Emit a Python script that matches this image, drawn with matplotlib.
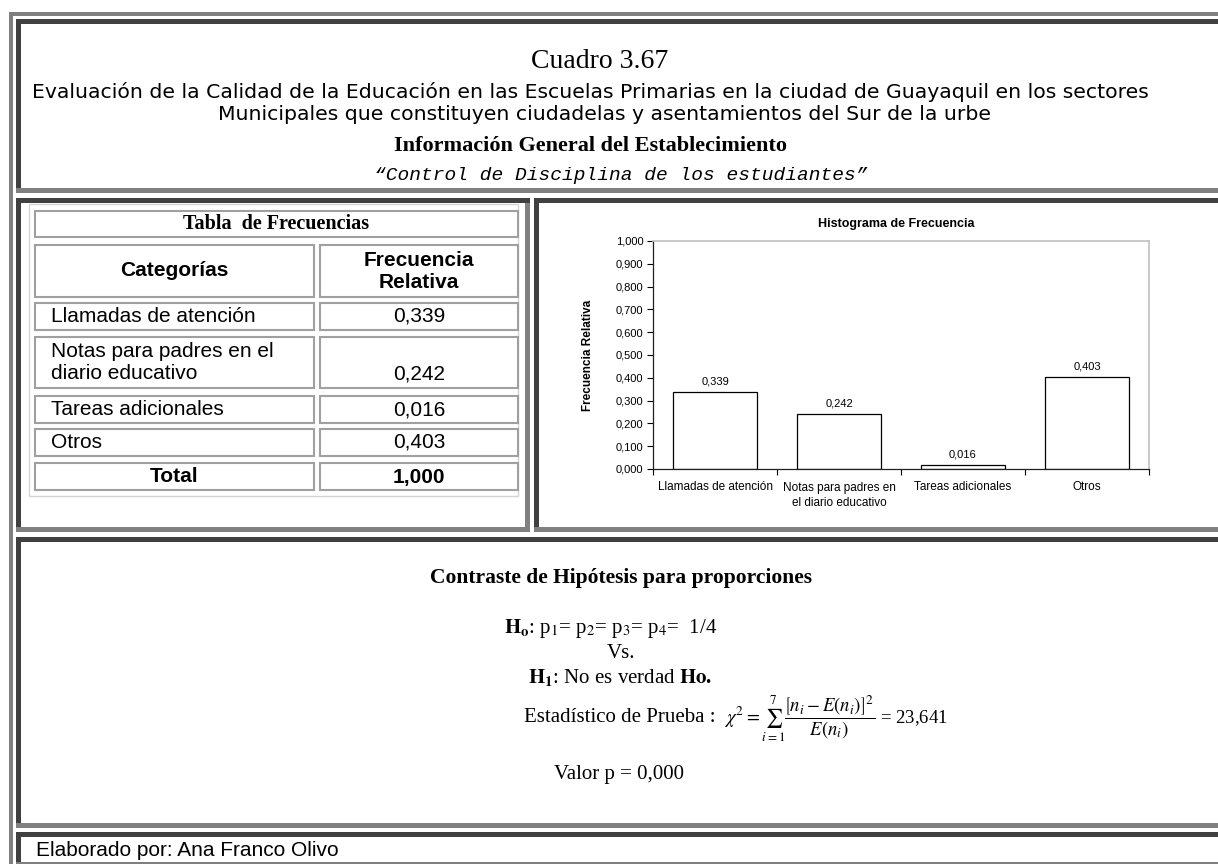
import matplotlib
matplotlib.use("Agg")
import matplotlib.pyplot as plt
from matplotlib.patches import Rectangle

W, H = 1218, 864

# datos del cuadro
categorias = ["Llamadas de atención", "Notas para padres en el\ndiario educativo",
              "Tareas adicionales", "Otros"]
etiquetas_eje = ["Llamadas de atención", "Notas para padres en\nel diario educativo",
                 "Tareas adicionales", "Otros"]
frecuencia_relativa = [0.339, 0.242, 0.016, 0.403]
total = 1.000
y_ticks = [0.0, 0.1, 0.2, 0.3, 0.4, 0.5, 0.6, 0.7, 0.8, 0.9, 1.0]
estadistico = "23,641"
valor_p = "0,000"

SANS = "Liberation Sans"
SERIF = "Liberation Serif"
MONO = "Liberation Mono"
DARK = "#404040"
GRAY = "#808080"

plt.rcParams["mathtext.fontset"] = "stix"


def fmt(v):
    return f"{v:.3f}".replace(".", ",")


fig = plt.figure(figsize=(W / 100, H / 100), dpi=100)
bg = fig.add_axes([0, 0, 1, 1])
bg.set_xlim(0, W)
bg.set_ylim(H, 0)
bg.axis("off")


def band(x0, y0, x1, y1, color):
    bg.add_patch(Rectangle((x0, y0), x1 - x0, y1 - y0, facecolor=color,
                           edgecolor="none", zorder=1))


def cell(x0, y0, x1, y1, b=5):
    band(x1 - b, y0, x1, y1, GRAY)
    band(x0, y0, x1, y0 + b, DARK)
    band(x0, y0, x0 + b, y1, DARK)
    band(x0, y1 - b, x1, y1, GRAY)


def tcell(x0, y0, x1, y1):
    bg.add_patch(Rectangle((x0, y0), x1 - x0, y1 - y0, facecolor="white",
                           edgecolor="#a0a0a0", linewidth=1.5, zorder=2))


# marco exterior
band(9, 12, W, 16, GRAY)
band(9, 12, 13, H, GRAY)

cell(16, 19, 1228, 193)
cell(16, 198, 530, 532)
cell(534, 198, 1228, 532)
cell(16, 537, 1228, 828)
cell(16, 832, 1228, 867)

# encabezado
bg.text(600, 62, "Cuadro 3.67", ha="center", va="center", family=SERIF, fontsize=20)
t1 = bg.text(590, 92, "Evaluación de la Calidad de la Educación en las Escuelas Primarias "
             "en la ciudad de Guayaquil en los sectores",
             ha="center", va="center", family="DejaVu Sans", fontsize=12)
r = fig.canvas.get_renderer()
fs = t1.get_fontsize() * 1112 / t1.get_window_extent(r).width
t1.set_fontsize(fs)
bg.text(604, 114, "Municipales que constituyen ciudadelas y asentamientos del Sur de la urbe",
        ha="center", va="center", family="DejaVu Sans", fontsize=fs)
bg.text(590, 146, "Información General del Establecimiento", ha="center", va="center",
        family=SERIF, fontweight="bold", fontsize=16)
bg.text(621, 175, "\u201cControl de Disciplina de los estudiantes\u201d", ha="center",
        va="center", family=MONO, style="italic", fontsize=14)

# tabla de frecuencias
bg.add_patch(Rectangle((29, 204), 489, 292, facecolor="white", edgecolor="#d4d4d4",
                       linewidth=1, zorder=1.5))
tcell(35, 211, 518, 237)
bg.text(276, 224, "Tabla  de Frecuencias", ha="center", va="center", family=SERIF,
        fontweight="bold", fontsize=14.5, zorder=3)
c1 = (35, 314)
c2 = (320, 518)
tcell(c1[0], 245, c1[1], 297)
tcell(c2[0], 245, c2[1], 297)
bg.text(174, 271, "Categorías", ha="center", va="center", family=SANS,
        fontweight="bold", fontsize=15, zorder=3)
bg.text(419, 271, "Frecuencia\nRelativa", ha="center", va="center", family=SANS,
        fontweight="bold", fontsize=15, linespacing=1.2, zorder=3)

row_top = [303, 337, 396, 429]
row_bot = [330, 388, 423, 456]
for nombre, v, y0, y1 in zip(categorias, frecuencia_relativa, row_top, row_bot):
    tcell(c1[0], y0, c1[1], y1)
    tcell(c2[0], y0, c2[1], y1)
    bg.text(51, (y0 + y1) / 2, nombre, ha="left", va="center", family=SANS,
            fontsize=15, linespacing=1.15, zorder=3)
    bg.text(419, y1 - 13.5, fmt(v), ha="center", va="center", family=SANS,
            fontsize=15, zorder=3)

tcell(c1[0], 463, c1[1], 490)
tcell(c2[0], 463, c2[1], 490)
bg.text(174, 477, "Total", ha="center", va="center", family=SANS,
        fontweight="bold", fontsize=15, zorder=3)
bg.text(419, 477, fmt(total), ha="center", va="center", family=SANS,
        fontweight="bold", fontsize=15, zorder=3)

# histograma
ax = fig.add_axes([653 / W, 1 - 469 / H, (1149 - 653) / W, (469 - 241) / H])
pos = list(range(len(frecuencia_relativa)))
bars = ax.bar(pos, frecuencia_relativa, width=0.67, color="white",
              edgecolor="black", linewidth=0.9, zorder=2)
ax.bar_label(bars, labels=[fmt(v) for v in frecuencia_relativa], padding=4,
             fontsize=8, family=SANS)
ax.set_xlim(-0.5, len(pos) - 0.5)
ax.set_ylim(0, 1)
ax.set_yticks(y_ticks)
ax.set_yticklabels([fmt(v) for v in y_ticks], fontsize=8, family=SANS)
ax.set_xticks([p - 0.5 for p in pos] + [pos[-1] + 0.5])
ax.set_xticklabels([])
ax.set_xticks(pos, minor=True)
ax.set_xticklabels(etiquetas_eje, minor=True, fontsize=8.5, family=SANS,
                   linespacing=1.35, va="top")
ax.tick_params(axis="x", which="minor", length=0, pad=9)
ax.tick_params(axis="x", which="major", length=4, direction="out", width=0.8)
ax.tick_params(axis="y", length=4, direction="out", width=0.8, pad=3)
for s in ("top", "right"):
    ax.spines[s].set_color("#c0c0c0")
    ax.spines[s].set_linewidth(1.2)
for s in ("left", "bottom"):
    ax.spines[s].set_color("#202020")
    ax.spines[s].set_linewidth(0.9)
bg.text(896, 224, "Histograma de Frecuencia", ha="center", va="center",
        family=SANS, fontweight="bold", fontsize=9)
bg.text(588, 355, "Frecuencia Relativa", ha="center", va="center", rotation=90,
        family=SANS, fontweight="bold", fontsize=8.5)

# contraste de hipótesis
bg.text(621, 578, "Contraste de Hipótesis para proporciones", ha="center", va="center",
        family=SERIF, fontweight="bold", fontsize=15.5)
bg.text(611, 628, r"$\mathbf{H_o}$: p$_1$= p$_2$= p$_3$= p$_4$=  1/4", ha="center",
        va="center", family=SERIF, fontsize=15)
bg.text(621, 653, "Vs.", ha="center", va="center", family=SERIF, fontsize=15)
bg.text(620, 677, r"$\mathbf{H_1}$: No es verdad $\mathbf{Ho.}$", ha="center",
        va="center", family=SERIF, fontsize=15)
bg.text(716, 717, "Estadístico de Prueba :", ha="right", va="center",
        family=SERIF, fontsize=15)
bg.text(724, 719,
        r"$\chi^2 = \sum_{i=1}^{7}\dfrac{\left[n_i - E\left(n_i\right)\right]^2}"
        r"{E\left(n_i\right)}$ = " + estadistico,
        ha="left", va="center", family=SERIF, fontsize=13.5)
bg.text(619, 775, "Valor p = " + valor_p, ha="center", va="center", family=SERIF,
        fontsize=15)

# pie
bg.text(36, 850, "Elaborado por: Ana Franco Olivo", ha="left", va="center",
        family=SANS, fontsize=15)

fig.savefig("out.png", dpi=100)
